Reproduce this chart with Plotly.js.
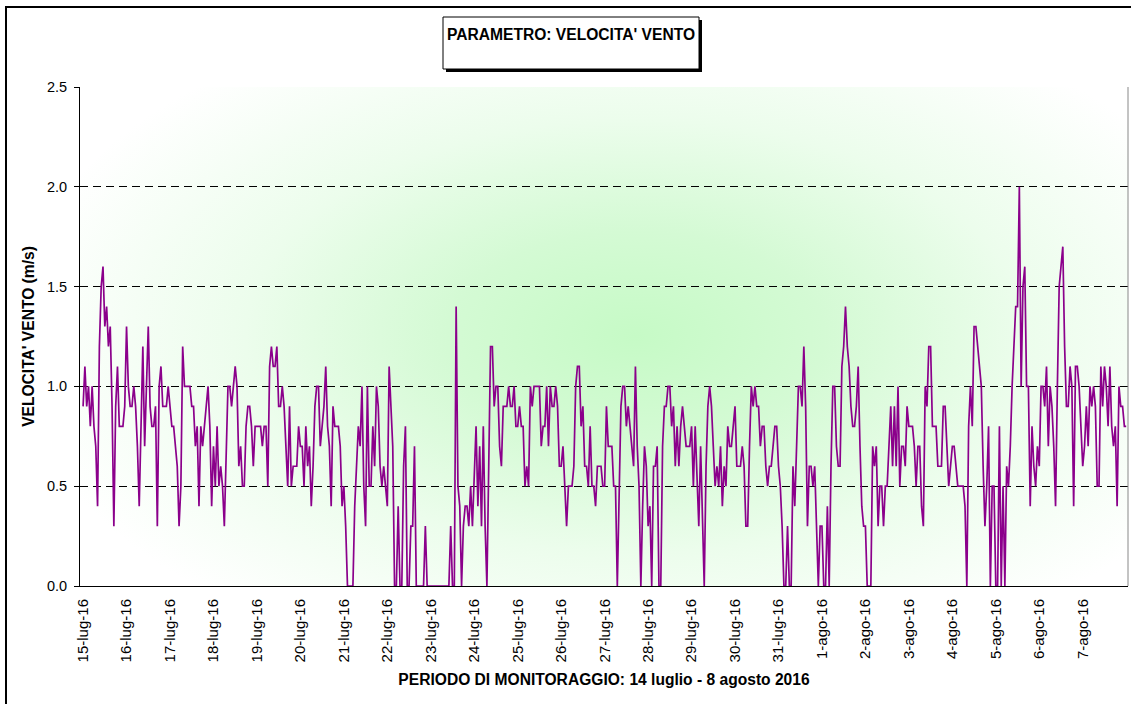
<!DOCTYPE html>
<html>
<head>
<meta charset="utf-8">
<script src="https://cdn.plot.ly/plotly-3.0.1.min.js"></script>
<style>
  html, body { margin: 0; padding: 0; background: #ffffff; }
  #wrap { position: relative; width: 1131px; height: 704px; overflow: hidden; background: #ffffff; }
  #grad { position: absolute; left: 80px; top: 87px; width: 1048px; height: 499px;
          background: radial-gradient(ellipse 60% 70% at 53% 50%, #c6fac6 0%, #d4fad4 30%, #ecfdec 62%, #ffffff 100%); }
  #frame { position: absolute; left: 5px; top: 6px; width: 1200px; height: 800px;
           border-left: 2px solid #000; border-top: 2px solid #000; }
  #chart { position: absolute; left: 0; top: 0; width: 1131px; height: 704px; }
</style>
</head>
<body>
<div id="wrap">
  <div id="grad"></div>
  <div id="frame"></div>
  <div id="chart"></div>
</div>
<script>
// Day tick labels (one per day, 00:00)
const dayLabels = ['15-lug-16','16-lug-16','17-lug-16','18-lug-16','19-lug-16','20-lug-16','21-lug-16',
  '22-lug-16','23-lug-16','24-lug-16','25-lug-16','26-lug-16','27-lug-16','28-lug-16','29-lug-16',
  '30-lug-16','31-lug-16','1-ago-16','2-ago-16','3-ago-16','4-ago-16','5-ago-16','6-ago-16','7-ago-16'];

// Hourly wind speed (m/s), in consecutive segments
const velA = [0.9,1.1,0.9,1.0,0.8,1.0,0.8,0.7,0.4,1.2,1.5,1.6,1.3,1.4,1.2,1.3,0.9,0.3,0.9,1.1,
  0.8,0.8,0.8,0.9,1.3,1.0,0.9,0.9,1.0,0.9,0.7,0.4,0.9,1.2,0.7,1.0,1.3,0.9,0.8,0.8,
  0.9,0.3,1.0,1.1,0.9,0.9,0.9,1.0,0.9,0.8,0.8,0.7,0.6,0.3,0.5,1.2];
const velB = [1.0,1.0,1.0,1.0,0.9,0.9,0.7,0.8,0.4,0.8,0.7,0.8,0.9,1.0,0.8,0.4,0.7,0.5,0.8,0.5,
  0.6,0.5,0.3,0.7,1.0,1.0,0.9,1.0,1.1,1.0,0.6,0.7,0.5,0.5,0.8,0.9,0.9,0.8,0.6,0.8,
  0.8,0.8,0.8,0.7,0.8,0.8,0.5,1.1,1.2,1.1,1.1,1.2,0.9,0.9,1.0,0.9,0.7,0.5];
const velC = [0.9,0.5,0.6,0.6,0.6,0.8,0.7,0.7,0.5,0.8,0.6,0.7,0.4,0.6,0.9,1.0,1.0,0.7,0.8,0.9,
  1.1,0.8,0.7,0.4,0.9,0.8,0.8,0.8,0.7,0.4,0.5,0.3,0,0,0,0,0.4,0.6,0.8,0.7,
  1.0,0.5,0.3,1.0,0.5,0.5,0.8,0.6,1.0,0.9,0.6,0.5,0.6,0.5,0.4,1.1,0.9];
const velD = [0.7,0,0,0.4,0,0,0.6,0.8,0,0,0.3,0.3,0.7,0,0,0,0,0,0.3,0,
  0,0,0,0,0,0,0,0,0,0,0,0,0.3,0,0,1.4,0.5,0.4,0,0.3,
  0.4,0.4,0.3,0.5,0.3,0.6,0.8,0.4,0.7,0.3,0.8,0.3,0,0.6,1.2];
const velE = [1.2,0.9,1.0,1.0,0.7,0.6,0.9,0.9,0.9,1.0,0.9,0.9,1.0,0.8,0.8,0.9,0.8,0.8,0.5,0.6,
  0.5,1.0,0.9,1.0,1.0,1.0,1.0,0.7,0.8,0.8,1.0,0.7,1.0,0.9,0.9,1.0,0.9,0.6,0.6,0.7,
  0.5,0.3,0.5,0.5,0.5,0.6,1.0,1.1,1.1,0.8,0.9,0.6,0.6,0.5,0.8,0.5,0.5,0.4,0.6];
const velF = [0.6,0.6,0.5,0.5,0.9,0.7,0.7,0.7,0.5,0.5,0,0.5,0.9,1.0,1.0,0.8,0.9,0.8,0.7,0.6,
  1.1,0.7,0.5,0,0.4,0.7,0.6,0.3,0.4,0,0.6,0.6,0.7,0,0,0.7,0.9,0.9,1.0,1.0,
  0.8,0.9,0.6,0.8,0.6,0.8,0.9,0.8,0.7,0.7,0.7,0.8,0.5,0.8,0.5,0.3,0.7,0.3,0];
const velG = [0.6,0.9,1.0,0.9,0.7,0.5,0.6,0.5,0.7,0.4,0.6,0.5,0.8,0.7,0.7,0.8,0.9,0.6,0.6,0.6,
  0.7,0.6,0.3,0.3,0.7,1.0,0.9,1.0,0.9,0.9,0.7,0.8,0.8,0.6,0.5,0.6,0.6,0.7,0.8,0.8,
  0.6,0.5,0.3,0,0,0.3,0,0,0.6,0.4,0.7,1.0,1.0,0.9,1.2,0.9,0.3];
const velH = [0.6,0.6,0.5,0.6,0.3,0,0.3,0.3,0,0,0.4,0,0.6,1.0,1.0,0.7,0.6,0.6,1.1,1.2,
  1.4,1.2,1.1,0.9,0.8,0.8,0.9,1.1,0.7,0.4,0.3,0.3,0,0,0,0.7,0.6,0.7,0.3,0.5,
  0.5,0.3,0.5,0.5,0.7,0.9,0.6,0.9,0.6,1.0,0.5,0.7,0.7,0.6,0.9,0.8,0.8,0.8];
const velI = [0.7,0.5,0.7,0.7,0.4,0.3,1.0,0.9,1.2,1.2,0.8,0.8,0.8,0.6,0.6,0.6,0.9,0.9,0.7,0.5,
  0.6,0.7,0.7,0.6,0.5,0.5,0.5,0.5,0.4,0,0.8,1.0,0.8,1.3,1.3,1.2,1.1,1.0,0.6,0.3,
  0.5,0.8,0,0.5,0.5,0,0,0.8,0,0.5,0,0.6,0.5,0.7,1.0,1.2];
const velJ = [1.4,1.4,2.0,1.0,1.5,1.6,1.0,1.0,0.4,0.8,0.6,0.5,0.7,0.6,1.0,1.0,0.9,1.1,0.7,1.0,
  0.9,0.7,0.4,1.0,1.5,1.6,1.7,1.2,0.9,0.9,1.1,1.0,0.4,1.1,1.1,1.0,0.8,0.6,0.7,0.9,
  0.7,1.0,0.9,1.0,0.9,0.5,0.5,1.1,0.9,1.1,1.0,0.8,1.1,0.8,0.7,0.8,0.4,1.0,0.9,0.9,
  0.8,0.8];

const speed = [].concat(velA, velB, velC, velD, velE, velF, velG, velH, velI, velJ);
const hours = speed.map((_, i) => i);          // hours since 15-lug-16 00:00
const dayTicks = dayLabels.map((_, d) => d * 24);

const FONT = 'Arial, "Liberation Sans", Helvetica, sans-serif';

const trace = {
  x: hours, y: speed, type: 'scatter', mode: 'lines',
  line: { color: '#8b008b', width: 1.7 },
  hoverinfo: 'y'
};

const px = v => (v - 80) / 1048;       // pixel -> paper x
const py = v => (586 - v) / 499;       // pixel -> paper y

const layout = {
  width: 1131, height: 704,
  margin: { l: 80, r: 3, t: 87, b: 118, pad: 0 },
  paper_bgcolor: 'rgba(0,0,0,0)',
  plot_bgcolor: 'rgba(0,0,0,0)',
  showlegend: false,
  font: { family: FONT, color: '#000', size: 15 },
  title: {
    text: "<b>PARAMETRO: VELOCITA' VENTO</b>",
    font: { family: FONT, size: 15.6, color: '#000' },
    xref: 'container', yref: 'container',
    x: 447 / 1131, xanchor: 'left',
    y: 1 - 35 / 704, yanchor: 'middle'
  },
  xaxis: {
    range: [-1.7, 577],
    tickmode: 'array', tickvals: dayTicks, ticktext: dayLabels,
    tickangle: -90, ticks: '', ticklabelstandoff: 6,
    tickfont: { family: FONT, size: 15, color: '#000' },
    showgrid: false, zeroline: false,
    showline: true, linecolor: '#000', linewidth: 1,
    title: { text: '<b>PERIODO DI MONITORAGGIO: 14 luglio - 8 agosto 2016</b>',
             font: { family: FONT, size: 15.6, color: '#000' }, standoff: 12 }
  },
  yaxis: {
    range: [0, 2.5], tick0: 0, dtick: 0.5, tickformat: '.1f',
    ticks: 'outside', ticklen: 5, tickcolor: '#000',
    ticklabelstandoff: 4,
    tickfont: { family: FONT, size: 14.5, color: '#000' },
    showgrid: true, gridcolor: '#000', gridwidth: 1, griddash: '8px,5px',
    zeroline: false,
    showline: true, linecolor: '#000', linewidth: 1,
    title: { text: "<b>VELOCITA' VENTO (m/s)</b>",
             font: { family: FONT, size: 15.6, color: '#000' }, standoff: 8 }
  },
  shapes: [
    // right border of plot area
    { type: 'line', xref: 'paper', yref: 'paper', x0: 1, x1: 1, y0: 0, y1: 1,
      line: { color: '#888', width: 1 } },
    // title box shadow
    { type: 'rect', xref: 'paper', yref: 'paper', layer: 'below',
      x0: px(446), x1: px(702), y0: py(72), y1: py(20),
      fillcolor: '#000', line: { width: 0 } },
    // title box
    { type: 'rect', xref: 'paper', yref: 'paper', layer: 'below',
      x0: px(443), x1: px(699), y0: py(69), y1: py(17),
      fillcolor: '#fff', line: { color: '#000', width: 1 } }
  ]
};

Plotly.newPlot('chart', [trace], layout, { displayModeBar: false, staticPlot: true });
</script>
</body>
</html>
